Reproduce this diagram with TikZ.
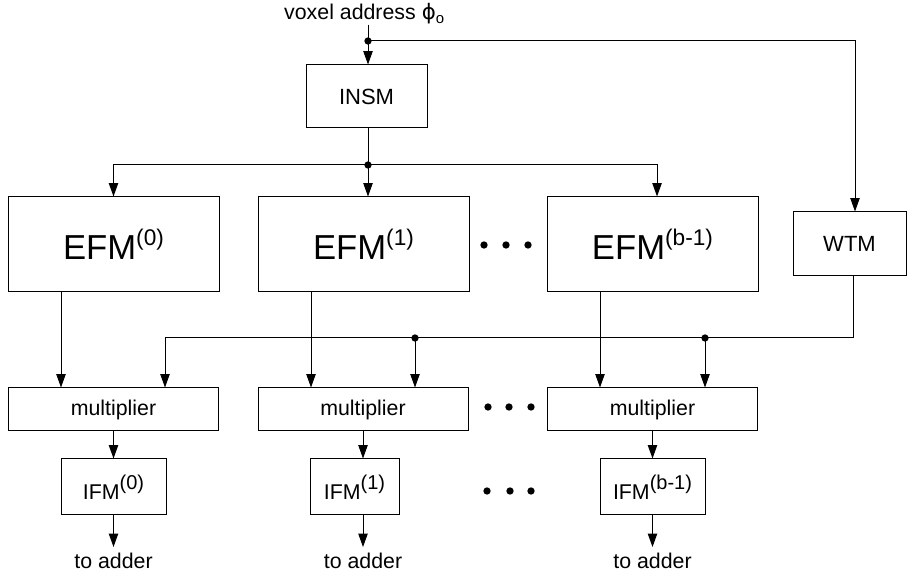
\documentclass[tikz,border=0pt]{standalone}
\usepackage{fontspec}
\setmainfont{Liberation Sans}
\newfontfamily\dejavu{DejaVu Sans}
\usetikzlibrary{arrows.meta}
\newcommand{\efmlbl}[1]{EFM\raisebox{10.5pt}{\fontsize{17}{20}\selectfont (#1)}}
\newcommand{\ifmlbl}[1]{\fontsize{16}{19}\selectfont IFM\raisebox{7.5pt}{\fontsize{15}{18}\selectfont (#1)}}
\begin{document}
\begin{tikzpicture}[x=0.75pt,y=-0.75pt,
  box/.style={draw, line width=0.75pt, inner sep=0pt, font=\fontsize{16.5}{19}\selectfont},
  big/.style={box, font=\fontsize{26}{30}\selectfont},
  conn/.style={line width=0.75pt},
  arr/.style={conn, -{Triangle[length=10pt,width=7pt]}},
  jdot/.style={circle, fill, inner sep=0pt, minimum size=5.5pt},
  txt/.style={font=\fontsize{16}{19}\selectfont, inner sep=0pt}]
\useasboundingbox (0,0) rectangle (907,580);

% top
\node[txt] (voxel) at (364.5,14) {voxel address {\dejavu ϕ}\textsubscript{o}};
\coordinate (j0) at (368,41);
\node[box, minimum width=90.75pt, minimum height=47.25pt] (insm) at (366.5,96.5) {INSM};
\coordinate (j1) at (368,165);

% EFM row
\node[big, minimum width=158.25pt, minimum height=71.25pt] (efm0) at (113.5,244.5) {\efmlbl{0}};
\node[big, minimum width=158.25pt, minimum height=71.25pt] (efm1) at (363.5,244.5) {\efmlbl{1}};
\node[big, minimum width=158.25pt, minimum height=71.25pt] (efm2) at (652.5,244.5) {\efmlbl{b-1}};
\node[box, minimum width=84.75pt, minimum height=48pt] (wtm) at (849.5,244) {WTM};

% multiplier row
\node[box, font=\fontsize{16}{19}\selectfont, minimum width=157.5pt, minimum height=32.25pt] (mul0) at (113.5,409.5) {multiplier};
\node[box, font=\fontsize{16}{19}\selectfont, minimum width=157.5pt, minimum height=32.25pt] (mul1) at (363,409.5) {multiplier};
\node[box, font=\fontsize{16}{19}\selectfont, minimum width=157.5pt, minimum height=32.25pt] (mul2) at (652.5,409.5) {multiplier};

% IFM row
\node[box, minimum width=78.75pt, minimum height=42pt] (ifm0) at (113.5,487) {\ifmlbl{0}};
\node[box, minimum width=66.75pt, minimum height=42pt] (ifm1) at (354.5,487) {\ifmlbl{1}};
\node[box, minimum width=78.75pt, minimum height=42pt] (ifm2) at (652.5,487) {\ifmlbl{b-1}};

% outputs
\node[txt, anchor=north] (add0) at (113.5,553) {to adder};
\node[txt, anchor=north] (add1) at (363,553) {to adder};
\node[txt, anchor=north] (add2) at (652.5,553) {to adder};

% connectors top
\draw[arr] (j0 |- voxel.south) -- (j0 |- insm.north);
\coordinate (wc) at (855,41);
\draw[arr] (j0) -- (wc) -- (wc |- wtm.north);
\draw[conn] (j0 |- insm.south) -- (j1);
\draw[arr] (j1) -| (efm0.north);
\draw[arr] (j1) -- (j1 |- efm1.north);
\draw[arr] (j1) -| ([xshift=3.4pt]efm2.north);

% WTM bus
\coordinate (w2) at (853,338);
\coordinate (m0r) at (165,338);
\coordinate (j2) at (415,338);
\coordinate (j3) at (705,338);
\draw[arr] (w2 |- wtm.south) -- (w2) -- (m0r) -- (m0r |- mul0.north);
\draw[arr] (j2) -- (j2 |- mul1.north);
\draw[arr] (j3) -- (j3 |- mul2.north);

% EFM to multipliers
\coordinate (e0) at (61,292);
\coordinate (e1) at (311,292);
\coordinate (e2) at (600,292);
\draw[arr] (e0 |- efm0.south) -- (e0 |- mul0.north);
\draw[arr] (e1 |- efm1.south) -- (e1 |- mul1.north);
\draw[arr] (e2 |- efm2.south) -- (e2 |- mul2.north);

% multipliers to IFM
\draw[arr] (mul0.south) -- (mul0.south |- ifm0.north);
\draw[arr] (mul1.south) -- (mul1.south |- ifm1.north);
\draw[arr] (mul2.south) -- (mul2.south |- ifm2.north);

% IFM to adder
\draw[arr, shorten >=4.5pt] (mul0.south |- ifm0.south) -- (add0.north);
\draw[arr, shorten >=4.5pt] (mul1.south |- ifm1.south) -- (add1.north);
\draw[arr, shorten >=4.5pt] (mul2.south |- ifm2.south) -- (add2.north);

% junction dots
\node[jdot] at (j0) {};
\node[jdot] at (j1) {};
\node[jdot] at (j2) {};
\node[jdot] at (j3) {};

% ellipsis dots
\foreach \x in {484,506,528} \node[jdot] at (\x,245) {};
\foreach \x in {488,509,531} \node[jdot] at (\x,407) {};
\foreach \x in {487,510,531} \node[jdot] at (\x,491) {};
\end{tikzpicture}
\end{document}
